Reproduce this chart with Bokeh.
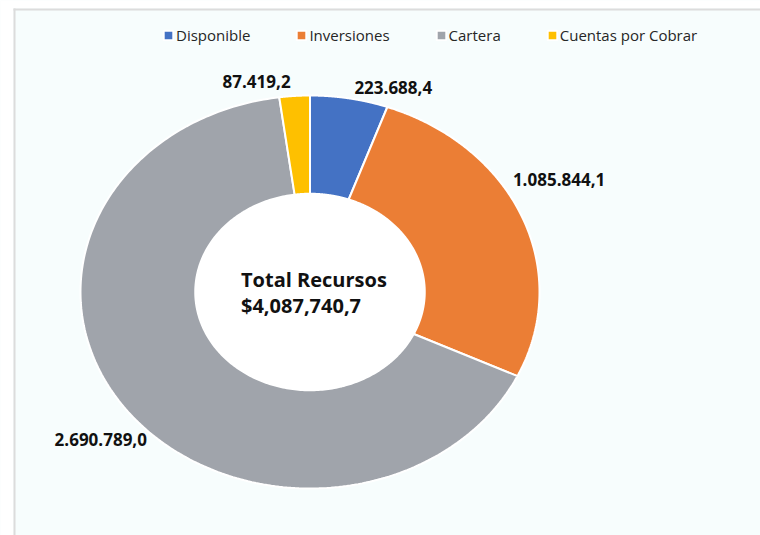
import numpy as np
from bokeh.plotting import figure
from bokeh.models import ColumnDataSource, Range1d, Legend, LegendItem, BoxAnnotation
from bokeh.core.properties import value
from bokeh.embed import file_html
from bokeh.resources import INLINE

# ---------------- data ----------------
categories = ["Disponible", "Inversiones", "Cartera", "Cuentas por Cobrar"]
values = [223688.4, 1085844.1, 2690789.0, 87419.2]
value_labels = ["223.688,4", "1.085.844,1", "2.690.789,0", "87.419,2"]
total_title = "Total Recursos"
total_label = "$4,087,740,7"

# ---------------- style ----------------
colors = ["#4472C4", "#EB7E35", "#A0A4AB", "#FEC000"]
label_dx = [44, 37, -24, -38]      # px offsets of value labels from slice mid-point
label_dy = [-11, -37, 31, -14]     # px, positive = down
FONT = "Open Sans"
BG = "#F7FDFD"

W, H = 760, 535
MARG_L, MARG_T = 13, 8      # white margin before the grey frame lines
CX, CY = 309.5, 291.5       # donut centre, canvas px
RX, RY = 229.5, 196.5       # outer radii, px
INNER = 0.5

# ---------------- geometry from data ----------------
vals = np.array(values, dtype=float)
frac = vals / vals.sum()
ends = np.cumsum(frac) * 2 * np.pi
starts = ends - frac * 2 * np.pi
xs, ys = [], []
for a0, a1 in zip(starts, ends):
    t = np.linspace(a0, a1, 240)
    ox, oy = np.sin(t), np.cos(t)
    xs.append(np.concatenate([ox, INNER * ox[::-1]]))
    ys.append(np.concatenate([oy, INNER * oy[::-1]]))
mid = (starts + ends) / 2

x0, x1 = -CX / RX, (W - CX) / RX
y0, y1 = -(H - CY) / RY, CY / RY

p = figure(width=W, height=H, x_range=Range1d(x0, x1), y_range=Range1d(y0, y1),
           output_backend="svg", toolbar_location=None,
           x_axis_location=None, y_axis_location=None,
           min_border=0, min_border_left=0, min_border_right=0, min_border_top=0, min_border_bottom=0,
           border_fill_color=BG, background_fill_color=BG,
           outline_line_color=None)
for g in p.grid:
    g.visible = False

src = ColumnDataSource(dict(xs=xs, ys=ys, color=colors, cat=categories))
r = p.patches(xs="xs", ys="ys", fill_color="color", line_color="white", line_width=2, source=src)

p.ellipse(x=0, y=0, width=2 * INNER, height=2 * INNER, fill_color="white", line_color=None)

lab = ColumnDataSource(dict(x=np.sin(mid), y=np.cos(mid), text=value_labels,
                            dx=label_dx, dy=label_dy))
p.text(x="x", y="y", text="text", x_offset="dx", y_offset="dy", source=lab,
       text_align="center", text_baseline="middle", text_font=value(FONT),
       text_font_style="bold", text_font_size="17px", text_color="#111111")

ctr = ColumnDataSource(dict(x=[0, 0], y=[0, 0], text=[total_title, total_label],
                            dx=[-69, -69], dy=[-12.5, 13.5]))
p.text(x="x", y="y", text="text", x_offset="dx", y_offset="dy", source=ctr,
       text_align="left", text_baseline="alphabetic", text_font=value(FONT),
       text_font_style="bold", text_font_size="20px", text_color="#111111")

# white page margin + grey frame lines (left & top)
dxp = (x1 - x0) / W
dyp = (y1 - y0) / H
gx0 = x0 + MARG_L * dxp
gy1 = y1 - MARG_T * dyp
p.add_layout(BoxAnnotation(right=gx0, fill_color="white", fill_alpha=1, line_alpha=0))
p.add_layout(BoxAnnotation(bottom=gy1, fill_color="white", fill_alpha=1, line_alpha=0))
p.add_layout(BoxAnnotation(left=gx0, right=gx0 + 2 * dxp, top=gy1,
                           fill_color="#DCDCDC", fill_alpha=1, line_alpha=0))
p.add_layout(BoxAnnotation(left=gx0, top=gy1, bottom=gy1 - 2 * dyp,
                           fill_color="#DCDCDC", fill_alpha=1, line_alpha=0))

items = [LegendItem(label=categories[i], renderers=[r], index=i) for i in range(len(categories))]
legend = Legend(items=items, orientation="horizontal", location=(162, H - 45),
                glyph_width=12, glyph_height=12, label_standoff=2, spacing=45,
                padding=0, margin=0, border_line_color=None, background_fill_alpha=0,
                label_text_font=FONT, label_text_font_size="15px",
                label_text_color="#262626", label_height=12)
p.add_layout(legend)

open("out.html", "w").write(file_html(p, INLINE))
